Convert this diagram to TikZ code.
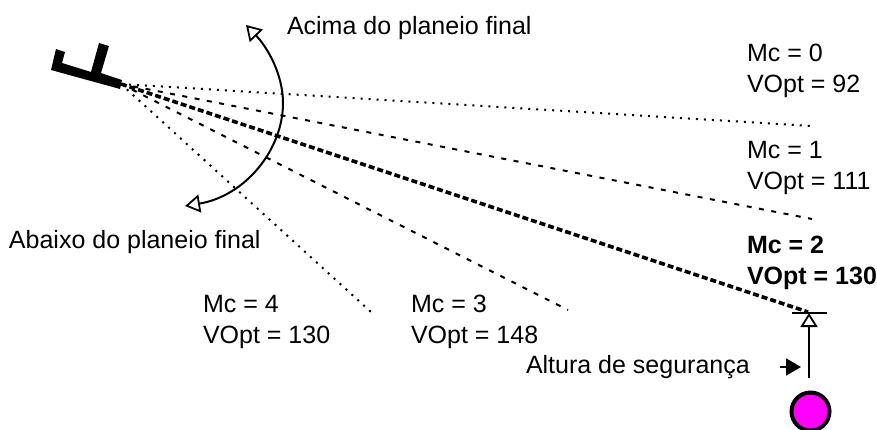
\documentclass[tikz,border=0pt]{standalone}
\usepackage{fontspec}
\setmainfont{Liberation Sans}
\usetikzlibrary{arrows.meta}
\definecolor{wpfill}{RGB}{255,0,255}
\tikzset{
  lbl/.style={anchor=west,inner sep=0pt,outer sep=0pt,align=left,font=\fontsize{25}{31.5}\selectfont},
  thin dots/.style={line width=2pt,dash pattern=on 2pt off 6pt},
  thin dash/.style={line width=2pt,dash pattern=on 5pt off 7.5pt},
  thick dash/.style={line width=3.6pt,dash pattern=on 6pt off 3pt},
  opentip/.tip={Triangle[open,length=15pt,width=18pt,line width=1.8pt]},
  openarrow/.style={line width=2pt,opentip-opentip},
}
\begin{document}
\begin{tikzpicture}[x=1pt,y=-1pt]
\useasboundingbox (0,0) rectangle (877,429);
% aircraft
\fill[black] (51,70) -- (56,49) -- (65,52) -- (62,63) -- (91,72) -- (99,43) -- (109,46) -- (101,73) -- (122,80) -- (120,89) -- cycle;
\coordinate (apex) at (121,84);
\coordinate (e0) at (812,126);
\coordinate (e1) at (812,219);
\coordinate (e2) at (808,312);
\coordinate (e3) at (568,310);
\coordinate (e4) at (371,312);
\draw[thin dots] (apex) -- (e0);
\draw[thin dash] (apex) -- (e1);
\draw[thick dash] (apex) -- (e2);
\draw[thin dash] (apex) -- (e3);
\draw[thin dots] (apex) -- (e4);
% arc
\coordinate (arcm) at (283,103);
\coordinate (arct) at (246,25);
\coordinate (arcb) at (185,206);
\draw[openarrow] (arct) .. controls (268,48) and (283,75) .. (arcm) .. controls (283,150) and (245,196) .. (arcb);
% target
\coordinate (tl) at (792,313);
\coordinate (tr) at (827,313);
\draw[line width=1.6pt] (tl) -- (tr);
\node[circle,draw=black,fill=wpfill,line width=4pt,minimum size=38pt,inner sep=0pt] (wp) at (810.5,411.5) {};
\coordinate (ab) at (809,378);
\coordinate (at) at (809,313);
\draw[line width=1.8pt,-{Triangle[open,length=14pt,width=17pt,line width=1.8pt]}] (ab) -- (at);
\coordinate (fa) at (780,367);
\coordinate (fb) at (801,367);
\draw[line width=1.6pt,-{Triangle[length=15pt,width=17pt]}] (fa) -- (fb);
% labels
\node[lbl] (acima) at (287,28) {Acima do planeio final};
\node[lbl] (abaixo) at (9,242) {Abaixo do planeio final};
\node[lbl] (m0) at (747,71) {Mc = 0\\VOpt = 92};
\node[lbl] (m1) at (747,168) {Mc = 1\\VOpt = 111};
\node[lbl] (m2) at (747,263) {\textbf{Mc = 2}\\\textbf{VOpt = 130}};
\node[lbl] (m4) at (203,322) {Mc = 4\\VOpt = 130};
\node[lbl] (m3) at (411,322) {Mc = 3\\VOpt = 148};
\node[lbl] (alt) at (526,367) {Altura de segurança};
\end{tikzpicture}
\end{document}
